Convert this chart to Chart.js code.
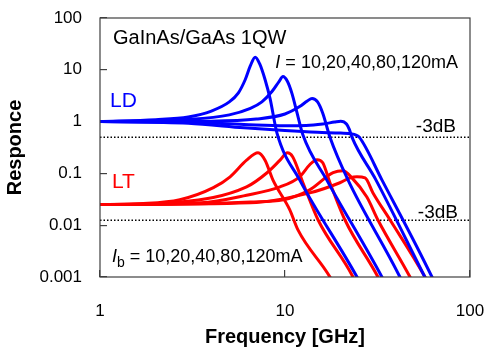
<!DOCTYPE html>
<html>
<head>
<meta charset="utf-8">
<script src="https://cdn.jsdelivr.net/npm/chart.js@4.4.0/dist/chart.umd.min.js"></script>
<style>
  html, body { margin: 0; padding: 0; background: #fff; }
  #wrap { width: 487px; height: 347px; }
</style>
</head>
<body>
<div id="wrap"><canvas id="graf" width="487" height="347"></canvas></div>
<script>
// axis ticks
var xTicks = [1, 10, 100];
var yTicks = [0.001, 0.01, 0.1, 1, 10, 100];
var yTickLabels = ['0.001', '0.01', '0.1', '1', '10', '100'];

// LD response for I = 10,20,40,80,120 mA, pairs of [GHz, response]
var ld10 = [[1,1],[2,1.09],[3,1.23],[4,1.6],[5,2.4],[5.6,3.6],[6.1,6.5],[6.5,12],[6.9,17.5],[7.3,13],[7.8,6.5],[8.3,2.8],[9.05,0.6],[12,0.075],[24.5,0.001],[28,0.0004]];
var ld20 = [[1,1],[3,1.1],[5,1.35],[6.5,1.8],[7.5,2.4],[8.5,3.8],[9.3,6],[9.75,7.4],[10.3,6],[10.9,3.5],[11.6,1.5],[12.5,0.55],[16.8,0.075],[33.4,0.001],[38,0.0004]];
var ld40 = [[1,1],[4,1.02],[7,1.12],[10,1.4],[12,1.95],[13.2,2.5],[14,2.8],[15,2.4],[16,1.45],[17.5,0.5],[21.9,0.075],[41.8,0.001],[47,0.0004]];
var ld80 = [[1,1],[3,0.97],[6,0.88],[10,0.83],[13,0.84],[16,0.9],[18.5,0.98],[20,1.02],[21.5,0.9],[22.3,0.7],[23,0.5],[31,0.075],[57,0.001],[65,0.0004]];
var ld120 = [[1,1],[3,0.93],[6,0.76],[10,0.67],[15,0.62],[20,0.6],[23,0.58],[24.2,0.55],[25.2,0.5],[33.4,0.075],[62.3,0.001],[70,0.0004]];

// LT response for Ib = 10,20,40,80,120 mA
var lt10 = [[1,0.025],[1.65,0.026],[2.7,0.031],[4.1,0.053],[5.05,0.086],[6.2,0.18],[7.15,0.25],[7.8,0.18],[8.6,0.075],[10.6,0.02],[11.75,0.0081],[17.5,0.001],[20,0.0004]];
var lt20 = [[1,0.025],[2.7,0.028],[6.2,0.055],[8,0.103],[9.4,0.18],[10.3,0.25],[11,0.21],[12.5,0.066],[15.1,0.0126],[23.3,0.001],[26,0.0004]];
var lt40 = [[1,0.025],[3.5,0.027],[6.2,0.038],[9.4,0.055],[12,0.086],[13.6,0.147],[14.9,0.184],[16,0.16],[17.5,0.066],[21.1,0.0126],[31.8,0.001],[36,0.0004]];
var lt80 = [[1,0.025],[3.5,0.026],[6.5,0.028],[9.8,0.031],[13.6,0.048],[18.2,0.103],[20.6,0.112],[23,0.082],[27.7,0.035],[31.8,0.0126],[47.4,0.001],[54,0.0004]];
var lt120 = [[1,0.025],[6.5,0.027],[13.6,0.042],[19.8,0.066],[22.5,0.082],[24.5,0.086],[27.1,0.082],[29.9,0.042],[37,0.0126],[57.1,0.001],[65,0.0004]];

// -3dB levels
var ld3dB = 0.5;
var lt3dB = 0.0125;

var FONT = "'Liberation Sans', Arial, sans-serif";

function pts(arr) {
    return arr.map(function (p) { return {x: p[0], y: p[1]}; });
}
function curve(arr, color) {
    return {
        data: pts(arr),
        showLine: true,
        borderColor: color,
        backgroundColor: color,
        borderWidth: 3,
        pointRadius: 0,
        cubicInterpolationMode: 'monotone',
        clip: 0
    };
}
function level(v) {
    return {
        data: [{x: xTicks[0], y: v}, {x: xTicks[xTicks.length - 1], y: v}],
        showLine: true,
        borderColor: '#000',
        borderWidth: 1.5,
        borderDash: [1.5, 2],
        pointRadius: 0,
        clip: 0
    };
}

var datasets = [];
[ld10, ld20, ld40, ld80, ld120].forEach(function (a) { datasets.push(curve(a, '#0000ff')); });
[lt10, lt20, lt40, lt80, lt120].forEach(function (a) { datasets.push(curve(a, '#ff0000')); });
datasets.push(level(ld3dB));
datasets.push(level(lt3dB));

// frame and the text notes in the plot
var notes = {
    id: 'notes',
    afterDraw: function (chart) {
        var c = chart.ctx, a = chart.chartArea;
        c.save();
        c.strokeStyle = '#404040';
        c.lineWidth = 1.2;
        c.strokeRect(a.left, a.top, a.right - a.left, a.bottom - a.top);

        c.textBaseline = 'alphabetic';
        c.fillStyle = '#000';
        c.font = '20px ' + FONT;
        c.textAlign = 'left';
        c.fillText('GaInAs/GaAs 1QW', a.left + 13, a.top + 26);

        // I = ... (right aligned)
        c.font = '18px ' + FONT;
        var rest = ' = 10,20,40,80,120mA';
        var wRest = c.measureText(rest).width;
        c.font = 'italic 18px ' + FONT;
        var wI = c.measureText('I').width;
        var x0 = a.right - 12 - wRest - wI;
        c.fillText('I', x0, a.top + 50);
        c.font = '18px ' + FONT;
        c.fillText(rest, x0 + wI, a.top + 50);

        // Ib = ...
        c.font = 'italic 18px ' + FONT;
        c.fillText('I', a.left + 12, a.bottom - 15);
        var wI2 = c.measureText('I').width;
        c.font = '14px ' + FONT;
        c.fillText('b', a.left + 12 + wI2, a.bottom - 10);
        var wb = c.measureText('b').width;
        c.font = '18px ' + FONT;
        c.fillText(' = 10,20,40,80,120mA', a.left + 12 + wI2 + wb, a.bottom - 15);

        c.font = '21px ' + FONT;
        c.fillStyle = '#0000ff';
        c.fillText('LD', a.left + 10, a.top + 89);
        c.fillStyle = '#ff0000';
        c.fillText('LT', a.left + 12, a.top + 170);

        c.fillStyle = '#000';
        c.font = '19px ' + FONT;
        c.textAlign = 'right';
        c.fillText('-3dB', a.right - 14, a.top + 114);
        c.fillText('-3dB', a.right - 12, a.top + 200);
        c.restore();
    }
};

var ctx = document.getElementById('graf').getContext('2d');
var chart = new Chart(ctx, {
    type: 'scatter',
    data: { datasets: datasets },
    plugins: [notes],
    options: {
        responsive: false,
        animation: false,
        devicePixelRatio: 1,
        layout: { padding: { left: 0, top: 18, right: 17, bottom: 0 } },
        plugins: { legend: { display: false }, tooltip: { enabled: false } },
        scales: {
            x: {
                type: 'logarithmic',
                min: 1,
                max: 100,
                afterFit: function (s) {
                    s.height = 70;
                    s.paddingLeft = 0; s.paddingRight = 0;
                },
                afterBuildTicks: function (s) { s.ticks = xTicks.map(function (v) { return {value: v}; }); },
                ticks: {
                    color: '#000',
                    font: { family: FONT, size: 17 },
                    padding: 31,
                    maxRotation: 0,
                    callback: function (v) { return String(v); }
                },
                grid: { drawOnChartArea: false, drawTicks: true, tickLength: -7, color: '#404040', lineWidth: 1.2 },
                border: { display: false },
                title: {
                    display: true,
                    text: 'Frequency [GHz]',
                    color: '#000',
                    font: { family: FONT, size: 20, weight: 'bold', lineHeight: 1 },
                    padding: { top: 0, bottom: 0 }
                }
            },
            y: {
                type: 'logarithmic',
                min: 0.001,
                max: 100,
                afterFit: function (s) {
                    s.width = 100;
                    s.paddingTop = 0; s.paddingBottom = 0;
                },
                afterBuildTicks: function (s) { s.ticks = yTicks.map(function (v) { return {value: v}; }); },
                ticks: {
                    color: '#000',
                    font: { family: FONT, size: 17 },
                    padding: 25,
                    callback: function (v) { return yTickLabels[yTicks.indexOf(v)]; }
                },
                grid: { drawOnChartArea: false, drawTicks: true, tickLength: -7, color: '#404040', lineWidth: 1.2 },
                border: { display: false },
                title: {
                    display: true,
                    text: 'Responce',
                    color: '#000',
                    font: { family: FONT, size: 20, weight: 'bold', lineHeight: 1 },
                    padding: { top: 5, bottom: 0 }
                }
            }
        }
    }
});
</script>
</body>
</html>
